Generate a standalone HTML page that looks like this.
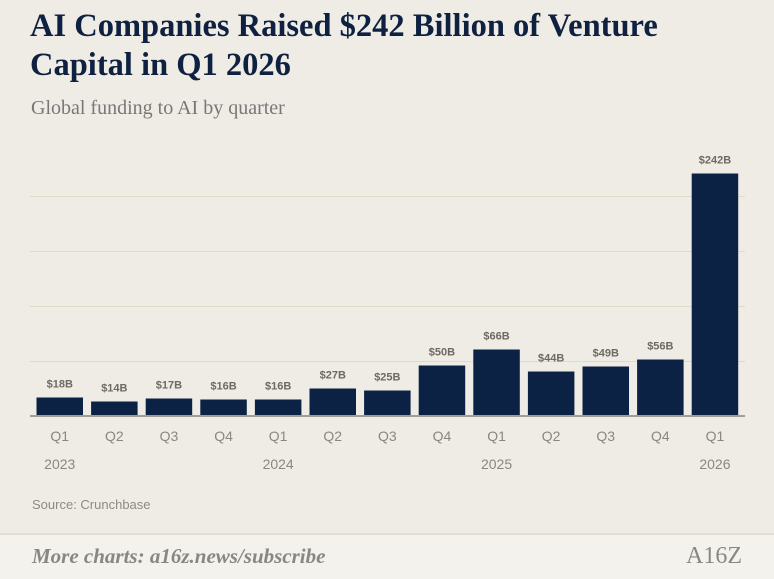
<!DOCTYPE html>
<html><head><meta charset="utf-8"><style>
body{margin:0;width:774px;height:577px;background:#efece5;overflow:hidden;position:relative;font-family:"Liberation Sans",sans-serif}
#title{position:absolute;left:30px;top:7px;font-family:"Liberation Serif",serif;font-weight:bold;font-size:32.5px;line-height:39px;color:#0e2140;margin:0}
#sub{position:absolute;left:31px;top:97px;font-family:"Liberation Serif",serif;font-size:20px;color:#777;}
#src{position:absolute;left:32px;top:497px;font-size:13px;color:#8c8a85}
#foot{position:absolute;left:0;top:533px;width:774px;height:44px;background:#f4f2ec;border-top:2px solid #e2ded5}
#more{position:absolute;left:32px;top:9px;font-family:"Liberation Serif",serif;font-style:italic;font-weight:bold;font-size:21px;color:#8a8782}
#logo{position:absolute;right:32px;top:8px;font-family:"Liberation Serif",serif;font-size:24px;color:#8a8782}
</style></head><body>
<h1 id="title">AI Companies Raised $242 Billion of Venture<br>Capital in Q1 2026</h1>
<div id="sub">Global funding to AI by quarter</div>
<svg id="chart" width="774" height="577" style="position:absolute;left:0;top:0"></svg>
<div id="src">Source: Crunchbase</div>
<div id="foot">
<div id="more">More charts: a16z.news/subscribe</div>
<div id="logo">A16Z</div>
</div>
<script>
const quarters=["Q1","Q2","Q3","Q4","Q1","Q2","Q3","Q4","Q1","Q2","Q3","Q4","Q1"];
const years=["2023","","","","2024","","","","2025","","","","2026"];
const values=[18,14,17,16,16,27,25,50,66,44,49,56,242];
const labels=["$18B","$14B","$17B","$16B","$16B","$27B","$25B","$50B","$66B","$44B","$49B","$56B","$242B"];
const gridVals=[54,109,164,219];
const NS="http://www.w3.org/2000/svg";
const svg=document.getElementById('chart');
const base=415.5, x0=36.5, pitch=54.6, bw=46.5;
const y=v=>base-v*1.0;
const x=i=>x0+i*pitch;
function mk(t,a){const e=document.createElementNS(NS,t);for(const k in a)e.setAttribute(k,a[k]);svg.appendChild(e);return e;}
gridVals.forEach(g=>{
 const l=mk('line',{x1:30,x2:745,y1:y(g),y2:y(g),stroke:'#dedbc9','stroke-width':1});
 
 
});
values.forEach((v,i)=>{
 const r=mk('rect',{x:x(i),y:y(v),width:bw,height:base-y(v),fill:'#0c2245'});
 
 
 const t=mk('text',{x:x(i)+bw/2,y:y(v)-10,'text-anchor':'middle','font-size':11,'font-weight':'bold',fill:'#6e6a62','font-family':'Liberation Sans, sans-serif'});
 t.textContent=labels[i];
 
 
 const q=mk('text',{x:x(i)+bw/2,y:441,'text-anchor':'middle','font-size':14,fill:'#8a877f','font-family':'Liberation Sans, sans-serif'});
 q.textContent=quarters[i];
 
 
 if(years[i]){const yr=mk('text',{x:x(i)+bw/2,y:469,'text-anchor':'middle','font-size':14,fill:'#8a877f','font-family':'Liberation Sans, sans-serif'});
 yr.textContent=years[i];
 
 }
});
const ax=mk('line',{x1:30,x2:745,y1:base+0.5,y2:base+0.5,stroke:'#a39e92','stroke-width':2});


</script>
</body></html>
